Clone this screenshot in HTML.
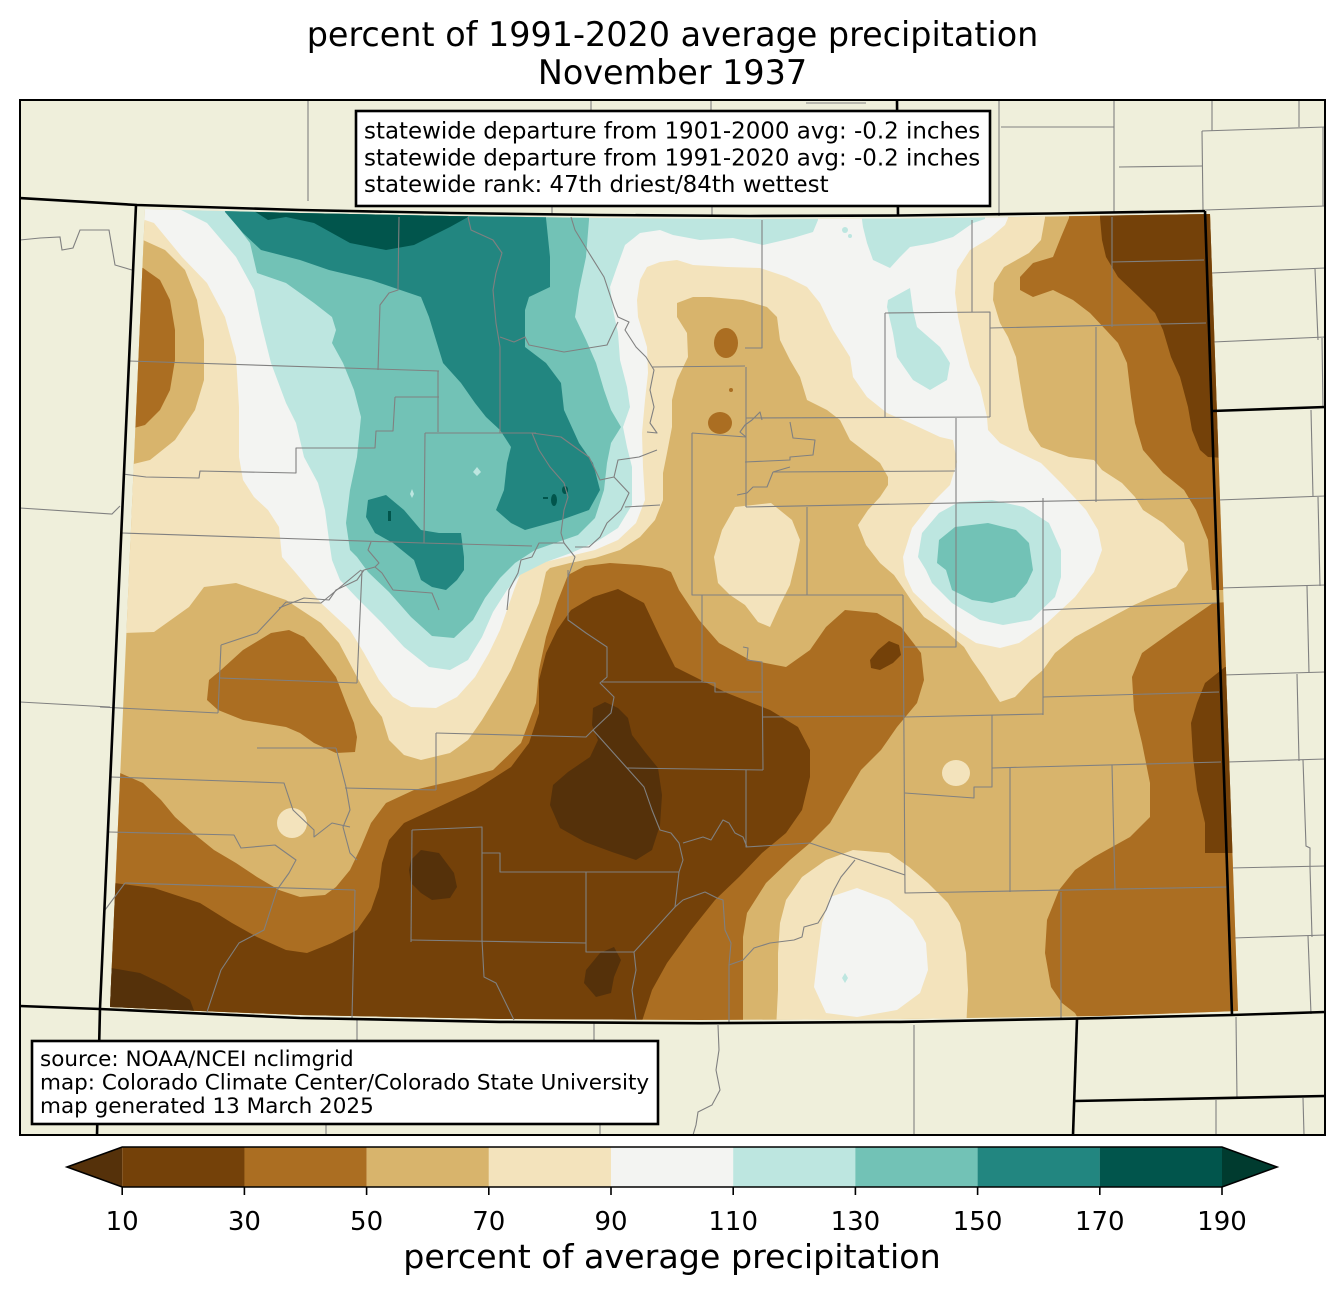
<!DOCTYPE html>
<html>
<head>
<meta charset="utf-8">
<style>
html,body{margin:0;padding:0;background:#ffffff;}
svg{display:block;}
text{font-family:"DejaVu Sans","Liberation Sans",sans-serif;fill:#000;}
</style>
</head>
<body>
<svg width="1344" height="1299" viewBox="0 0 1344 1299" xmlns="http://www.w3.org/2000/svg">
<defs>
<clipPath id="frame"><rect x="20" y="100" width="1305" height="1035"/></clipPath>
<clipPath id="co"><polygon points="145,209 300,213 450,216 600,218 750,219 900,218.5 1050,216.5 1210,214 1224,613 1238,1011 1100,1016 900,1019 700,1020 500,1019 300,1015 200,1011 110,1007"/></clipPath>
</defs>
<rect x="0" y="0" width="1344" height="1299" fill="#ffffff"/>

<g clip-path="url(#frame)">
<rect x="20" y="100" width="1305" height="1035" fill="#efefdb"/>

<!-- outside county lines -->
<g fill="none" stroke="#808080" stroke-width="1.1">
<polyline points="308,100 308,201"/>
<polyline points="591,100 591,111"/>
<polyline points="711,100 711,111"/>
<polyline points="552,206 552,215"/>
<polyline points="712,206 712,216"/>
<polyline points="806,103 866,103"/>
<polyline points="999,100 999,216"/>
<polyline points="1001,127 1114,127"/>
<polyline points="1114,100 1114,213"/>
<polyline points="1119,167 1202,166"/>
<polyline points="1212,100 1212,131"/>
<polyline points="1202,131 1325,127"/>
<polyline points="1299,100 1299,127"/>
<polyline points="1202,131 1203,210"/>
<polyline points="1205,210 1325,206"/>
<polyline points="1323,127 1323,206"/>
<polyline points="1212,273 1325,268"/>
<polyline points="1315,269 1318,340"/>
<polyline points="1213,342 1325,337"/>
<polyline points="1322,338 1323,408"/>
<polyline points="1218,500 1325,496"/>
<polyline points="1311,410 1313,497"/>
<polyline points="1318,497 1320,586"/>
<polyline points="1220,588 1325,585"/>
<polyline points="1307,586 1309,673"/>
<polyline points="1223,675 1325,672"/>
<polyline points="1297,674 1299,761"/>
<polyline points="1227,762 1325,759"/>
<polyline points="1303,760 1306,846 1310,848 1310,867"/>
<polyline points="1230,868 1325,866"/>
<polyline points="1310,867 1312,937"/>
<polyline points="1233,938 1325,935"/>
<polyline points="1308,936 1311,1014"/>
<polyline points="1236,1017 1237,1099"/>
<polyline points="1216,1100 1216,1135"/>
<polyline points="1303,1098 1304,1135"/>
<polyline points="357,1018 357,1040"/>
<polyline points="594,1023 594,1040"/>
<polyline points="326,1124 326,1135"/>
<polyline points="600,1124 600,1135"/>
<polyline points="718,1025 719,1050 716,1070 720,1090 712,1105 698,1112 696,1125 693,1135"/>
<polyline points="914,1025 914,1135"/>
<polyline points="20,240 40,238 60,237 62,250 73,248 80,230 109,230 115,265 132,270"/>
<polyline points="20,508 112,514 120,506"/>
<polyline points="20,702 110,707"/>
</g>

<!-- data -->
<g clip-path="url(#co)" stroke="none">
<rect x="90" y="190" width="1180" height="860" fill="#d8b46c"/>
<!-- >=70 -->
<polygon fill="#f3e3bc" points="100,195 1045,195 1045,218 1041,240 1029,253 1004,267 994,283 993,300 1000,323 1008,337 1016,357 1020,383 1024,407 1029,430 1041,447 1069,457 1094,460 1102,470 1122,483 1135,497 1143,510 1163,523 1184,543 1188,570 1176,587 1150,598 1134,605 1106,620 1075,637 1055,653 1043,670 1031,680 1015,697 1000,702 992,690 984,677 972,660 964,647 948,633 924,617 913,603 903,588 894,575 880,563 866,545 858,525 868,510 880,497 888,485 888,477 880,463 867,453 850,440 840,420 827,410 807,400 800,377 790,360 780,340 777,317 767,307 743,300 710,297 693,297 677,303 677,317 687,333 688,357 677,380 672,400 672,427 667,453 663,473 663,500 655,520 640,537 620,550 595,558 570,563 550,568 546,572 539,603 525,637 511,670 496,697 482,720 468,740 450,753 421,760 404,755 389,740 382,717 371,703 357,677 339,643 321,623 286,600 236,583 204,587 189,607 154,632 125,633 100,633"/>
<!-- >=90 -->
<polygon fill="#f3f4f2" points="130,195 1008,195 1008,218 1005,225 990,238 970,250 957,270 955,293 958,317 963,340 970,367 980,387 983,400 987,417 988,430 1000,443 1020,453 1041,463 1061,483 1086,510 1098,530 1102,550 1094,572 1075,597 1047,623 1019,643 1000,648 976,643 956,630 932,610 913,592 905,575 903,557 912,528 930,505 950,485 957,462 953,440 940,437 910,423 887,413 867,397 853,377 850,357 833,330 820,303 807,287 787,277 760,268 727,267 693,265 677,260 660,262 647,267 640,280 637,300 638,317 647,347 648,373 645,400 642,433 643,467 645,500 636,523 618,540 595,550 570,556 545,562 527,568 521,572 514,590 507,610 500,630 489,653 475,677 457,697 436,708 411,707 393,697 379,680 364,653 350,630 321,603 295,572 282,557 279,527 268,510 254,497 243,480 239,457 239,407 236,357 225,317 207,283 182,257 154,223 130,215"/>
<!-- >=110 -->
<g fill="#bde6e0">
<polygon points="150,195 818,195 818,220 813,232 793,238 763,245 733,238 700,240 673,235 660,230 640,233 625,245 617,267 610,287 613,310 618,333 620,360 627,387 630,407 623,427 627,447 632,467 632,505 618,528 596,542 571,553 546,562 520,575 507,590 493,612 482,637 468,660 450,670 429,667 404,647 382,623 357,598 340,580 332,560 329,540 325,510 318,483 304,457 296,423 286,403 271,363 261,323 254,290 236,257 207,223 179,209 160,200"/>
<polygon points="860,205 985,205 985,219 973,223 953,237 933,243 910,247 900,257 890,268 873,260 867,243 863,227"/>
<polygon points="888,300 910,288 913,310 917,327 940,347 950,363 947,380 930,390 913,380 897,357 893,333 887,307"/>
<polygon points="959,502 992,500 1024,507 1049,523 1061,550 1061,577 1055,597 1031,620 1003,625 980,620 952,603 932,583 926,570 918,557 922,533 939,513"/>
<circle cx="845" cy="230" r="3"/>
<circle cx="850" cy="236" r="2"/>
</g>
<!-- >=130 -->
<g fill="#72c2b6">
<polygon points="182,195 589,195 589,220 586,257 579,290 575,317 586,340 596,363 604,390 611,410 621,427 611,443 607,463 604,490 595,518 578,535 555,543 535,550 515,563 500,578 485,598 473,620 454,638 432,636 411,617 389,592 368,572 357,557 350,550 346,523 350,490 357,457 361,417 354,390 343,363 332,343 336,330 332,317 314,303 286,283 257,273 250,243 225,210 215,200"/>
<polygon points="939,540 955,527 988,523 1016,530 1029,543 1033,570 1027,583 1015,597 992,603 972,600 952,590 946,570 937,563"/>
</g>
<!-- >=150 -->
<g fill="#228680">
<polygon points="223,195 546,195 546,218 550,257 550,287 529,297 525,310 525,347 546,363 561,383 564,410 579,443 593,463 600,490 589,510 561,520 525,530 511,523 496,510 504,490 507,463 511,447 500,430 486,417 475,403 461,383 443,363 436,340 429,317 421,297 371,280 329,270 300,260 261,250 243,233 225,212"/>
<polygon points="368,500 386,495 404,510 421,530 439,533 461,533 464,557 464,570 457,580 446,590 432,587 421,580 414,560 393,543 375,533 366,517"/>
</g>
<g fill="#bde6e0">
<polygon points="477,467 481,472 477,476 473,472"/>
<polygon points="412,489 414,494 412,498 410,494"/>
</g>
<!-- >=170 -->
<g fill="#01554c">
<polygon points="250,195 470,195 468,217 450,227 414,245 386,250 350,243 314,223 286,217 268,220 254,211"/>
<rect x="388" y="511" width="3" height="10"/>
<ellipse cx="554" cy="500" rx="3" ry="6"/>
<ellipse cx="565" cy="490" rx="3" ry="4"/>
<rect x="543" y="497" width="5" height="2"/>
</g>
<!-- cream / white islands -->
<g fill="#f3e3bc">
<polygon points="735,507 771,503 792,520 800,540 796,560 790,585 780,605 770,627 758,622 745,605 730,595 718,583 714,557 722,530"/>
<polygon points="853,850 889,853 909,867 928,883 948,903 960,923 966,953 968,990 966,1030 776,1030 778,990 778,953 780,923 786,900 802,877 826,860"/>
<ellipse cx="292" cy="823" rx="15" ry="15"/>
<ellipse cx="956" cy="773" rx="14" ry="13"/>
</g>
<polygon fill="#f3f4f2" points="857,888 889,900 913,920 926,943 928,970 920,993 897,1010 857,1017 826,1013 814,987 818,953 822,923 830,897"/>
<polygon fill="#bde6e0" points="845,973 848,978 845,983 842,978"/>
<!-- dry: tan islands -->
<polygon fill="#d8b46c" points="100,236 143,240 165,250 185,270 197,300 204,340 204,380 195,410 175,440 150,460 100,472"/>
<!-- 30-50 -->
<g fill="#ab6e22">
<polygon points="100,265 143,268 160,280 170,300 175,330 175,360 170,390 160,410 145,425 100,437"/>
<polygon points="209,680 221,670 243,650 271,633 289,630 304,637 321,657 336,677 346,703 354,723 357,737 355,752 336,753 314,743 300,733 286,727 243,720 218,710 207,700"/>
<polygon points="100,773 120,773 143,783 161,800 175,817 193,833 214,850 236,863 257,877 279,890 300,897 325,895 336,887 350,870 361,847 371,823 386,803 414,790 457,780 493,770 521,743 536,703 539,670 546,637 557,603 568,575 585,566 610,563 640,565 662,568 671,572 679,590 699,620 719,643 750,660 786,667 810,650 826,627 845,610 877,613 901,627 921,653 924,680 917,703 897,727 881,750 861,770 845,797 830,823 810,843 790,860 766,883 747,913 743,937 743,1040 100,1040"/>
<polygon points="1069,195 1260,195 1260,590 1212,590 1208,540 1196,510 1184,490 1163,473 1143,450 1135,423 1131,397 1127,363 1118,343 1106,330 1090,313 1073,300 1053,290 1033,297 1020,290 1020,277 1033,263 1053,257 1061,237 1069,218"/>
<polygon points="1260,600 1213,603 1174,630 1142,653 1132,677 1134,710 1142,743 1150,783 1150,817 1130,837 1094,857 1075,870 1059,890 1047,920 1045,953 1051,987 1062,1003 1075,1013 1090,1040 1260,1040"/>
<ellipse cx="726" cy="343" rx="12" ry="15"/>
<ellipse cx="720" cy="423" rx="12" ry="11"/>
<circle cx="731" cy="390" r="2"/>
</g>
<!-- 10-30 -->
<g fill="#744109">
<polygon points="593,597 618,589 644,603 660,637 675,667 727,693 770,710 798,727 810,750 810,777 802,810 786,833 762,853 739,877 715,900 691,930 667,963 652,990 636,1040 100,1040 100,883 114,883 154,888 200,903 232,923 257,937 286,950 307,953 332,943 357,930 371,910 379,887 382,863 389,840 404,823 432,810 475,790 511,767 529,743 539,713 539,680 546,653 557,630 571,610"/>
<polygon points="1100,195 1260,195 1260,460 1208,457 1200,450 1192,430 1188,407 1180,377 1171,357 1163,330 1155,313 1139,297 1118,277 1106,257 1102,240 1100,218"/>
<polygon points="1260,667 1225,667 1205,683 1197,703 1191,723 1193,757 1197,790 1205,823 1205,853 1260,853"/>
<polygon points="878,650 889,641 899,645 901,655 893,663 880,670 871,668 870,660"/>
</g>
<!-- <10 -->
<g fill="#55310a">
<polygon points="593,708 605,702 618,708 628,718 632,735 645,752 658,768 662,795 660,825 652,850 636,860 612,852 585,842 560,828 550,805 553,785 568,772 590,757 598,740 592,725"/>
<polygon points="411,860 421,850 439,853 454,873 457,887 450,898 432,900 421,893 411,883 409,870"/>
<polygon points="100,968 111,968 140,973 165,985 190,1000 205,1040 100,1040"/>
<polygon points="586,970 600,953 614,947 621,960 614,977 611,993 596,997 584,983"/>
</g>
</g>

<!-- Colorado county lines -->
<g fill="none" stroke="#808080" stroke-width="1.1" stroke-linejoin="round">
<polyline points="399,217 398,290 389,293 380,305 378,370"/>
<polyline points="129,361 377,369 439,371"/>
<polyline points="438,371 438,432"/>
<polyline points="395,397 439,397"/>
<polyline points="395,397 393,431 376,431 375,448 296,448 296,473 200,471 199,478 146,477 123,474"/>
<polyline points="425,433 536,433"/>
<polyline points="425,433 424,543"/>
<polyline points="122,533 423,543 532,546"/>
<polyline points="468,217 471,230 493,240 502,253 496,273 493,290 496,323 500,347 500,433"/>
<polyline points="500,337 514,342 525,337 529,345 564,352 607,345 614,330 618,322"/>
<polyline points="571,217 575,230 589,253 604,277 614,307 618,317 629,322 625,330 636,347 646,357 654,370 650,390 654,407 650,423 657,433 647,432"/>
<polyline points="532,433 561,437 579,450 589,457 600,480 614,477 618,460 639,457 657,450"/>
<polyline points="532,433 539,450 550,467 564,483 568,497 564,510 561,533 564,543 539,543 532,557 521,560 518,573 509,590 507,610"/>
<polyline points="564,543 575,557 568,577 568,610"/>
<polyline points="614,477 629,493 621,510 607,523 600,537 589,547 575,547"/>
<polyline points="625,507 660,505"/>
<polyline points="371,542 368,550 379,563 375,567 364,570 357,580 336,590 329,600 304,598 279,608"/>
<polyline points="375,567 382,573 393,590 432,593 439,610"/>
<polyline points="100,707 218,713"/>
<polyline points="218,713 221,645"/>
<polyline points="221,645 257,633 286,602 321,603 361,570"/>
<polyline points="220,678 357,683"/>
<polyline points="357,683 362,570"/>
<polyline points="257,748 336,748"/>
<polyline points="336,748 346,787 350,810 343,827 350,853 357,860"/>
<polyline points="111,777 284,783 293,810 314,830 314,837 332,823 350,827"/>
<polyline points="109,832 234,835 241,848 275,845 296,860 289,873 279,887 277,890"/>
<polyline points="125,883 355,890"/>
<polyline points="125,883 105,910"/>
<polyline points="277,890 264,930 239,943 221,970 207,1012"/>
<polyline points="355,890 352,1018"/>
<polyline points="345,788 436,790"/>
<polyline points="436,733 436,790"/>
<polyline points="436,733 586,737 593,730"/>
<polyline points="568,570 568,620 586,633 607,647 607,677 600,683 614,697 611,713 593,730 627,768 644,787 652,810 660,830 671,833 679,843 683,860 679,872 675,907"/>
<polyline points="602,682 702,682"/>
<polyline points="627,768 763,770"/>
<polyline points="412,830 482,827 482,942"/>
<polyline points="412,830 411,942"/>
<polyline points="482,853 500,853 500,872 679,872"/>
<polyline points="411,940 586,943"/>
<polyline points="586,872 586,952 634,952"/>
<polyline points="482,940 484,977 496,983 514,1020"/>
<polyline points="634,952 675,907 683,900 705,892 717,898 723,900 725,930 731,943 729,965 729,1023"/>
<polyline points="634,952 636,970 632,990 636,1020"/>
<polyline points="702,595 702,682"/>
<polyline points="692,433 692,595 903,595"/>
<polyline points="702,682 715,683 715,692 763,692"/>
<polyline points="743,647 748,648 747,660 762,662 763,770"/>
<polyline points="763,717 905,716"/>
<polyline points="746,770 746,847 810,843 905,875"/>
<polyline points="683,843 703,837 711,840 723,820 729,823 735,833 743,837 747,847"/>
<polyline points="855,860 841,877 834,890 826,910 818,923 804,927 802,937 794,940 770,943 754,948 743,960 729,965"/>
<polyline points="903,595 905,893 1227,887"/>
<polyline points="956,418 956,647 903,647"/>
<polyline points="1043,498 1043,715"/>
<polyline points="1043,610 1217,603"/>
<polyline points="1043,697 1219,692"/>
<polyline points="905,717 1043,714"/>
<polyline points="992,715 992,787 974,787 974,798 905,793"/>
<polyline points="992,768 1221,762"/>
<polyline points="1010,768 1010,892"/>
<polyline points="1112,765 1115,890"/>
<polyline points="1061,892 1061,1020"/>
<polyline points="746,507 1214,498"/>
<polyline points="807,507 807,595"/>
<polyline points="746,367 746,507"/>
<polyline points="762,220 762,348 745,348"/>
<polyline points="652,367 745,366"/>
<polyline points="746,418 990,417"/>
<polyline points="885,313 885,418"/>
<polyline points="885,313 990,312 990,417"/>
<polyline points="972,220 972,312"/>
<polyline points="990,328 1206,323"/>
<polyline points="1112,217 1112,327"/>
<polyline points="1112,262 1204,260"/>
<polyline points="1096,327 1096,502"/>
<polyline points="692,433 746,437"/>
<polyline points="745,462 790,460 790,457 813,455 815,440 793,438 790,422"/>
<polyline points="790,467 773,472"/>
<polyline points="773,472 955,471"/>
<polyline points="773,472 767,487 753,487 747,493 737,495"/>
<polyline points="746,437 740,432 745,425 752,420 760,412 762,420"/>
</g>

<!-- state borders -->
<g fill="none" stroke="#000" stroke-width="2.6" stroke-linejoin="round">
<polyline points="19,198 137,205 300,210 450,213 600,215 750,216 900,215.5 1050,213.5 1205,211"/>
<polyline points="897,100 898,216"/>
<polyline points="136,205 100,1008 97,1135"/>
<polyline points="1205,211 1232,1015"/>
<polyline points="20,1006 100,1009 300,1018 500,1021.9 700,1023.2 900,1021.9 1077,1018.6 1232,1015 1325,1012"/>
<polyline points="1077,1019 1073,1135"/>
<polyline points="1075,1101 1325,1096"/>
<polyline points="1212,411 1325,407"/>
</g>
</g>

<!-- frame -->
<rect x="20" y="100" width="1305" height="1035" fill="none" stroke="#000" stroke-width="2"/>

<!-- stats box -->
<rect x="356" y="111" width="634" height="95" fill="#ffffff" stroke="#000" stroke-width="2.6"/>
<text x="364" y="138.5" font-size="22.95">statewide departure from 1901-2000 avg: -0.2 inches</text>
<text x="364" y="165.5" font-size="22.95">statewide departure from 1991-2020 avg: -0.2 inches</text>
<text x="364" y="192" font-size="22.95">statewide rank: 47th driest/84th wettest</text>

<!-- source box -->
<rect x="32" y="1041" width="626" height="83" fill="#ffffff" stroke="#000" stroke-width="2.6"/>
<text x="40" y="1066" font-size="21.5">source: NOAA/NCEI nclimgrid</text>
<text x="40" y="1089.5" font-size="21.5">map: Colorado Climate Center/Colorado State University</text>
<text x="40" y="1113" font-size="21.5">map generated 13 March 2025</text>

<!-- title -->
<text x="672.5" y="46" font-size="33.4" text-anchor="middle">percent of 1991-2020 average precipitation</text>
<text x="672.5" y="84" font-size="33.4" text-anchor="middle">November 1937</text>

<!-- colorbar -->
<g>
<polygon points="122.2,1147 67,1167 122.2,1187" fill="#55310a"/>
<rect x="122.2" y="1147" width="122.3" height="40" fill="#744109"/>
<rect x="244.4" y="1147" width="122.3" height="40" fill="#ab6e22"/>
<rect x="366.6" y="1147" width="122.3" height="40" fill="#d8b46c"/>
<rect x="488.8" y="1147" width="122.3" height="40" fill="#f3e3bc"/>
<rect x="611" y="1147" width="122.3" height="40" fill="#f3f4f2"/>
<rect x="733.2" y="1147" width="122.3" height="40" fill="#bde6e0"/>
<rect x="855.4" y="1147" width="122.3" height="40" fill="#72c2b6"/>
<rect x="977.6" y="1147" width="122.3" height="40" fill="#228680"/>
<rect x="1099.8" y="1147" width="122.2" height="40" fill="#01554c"/>
<polygon points="1222,1147 1277,1167 1222,1187" fill="#003b2f"/>
<polygon points="122.2,1147 1222,1147 1277,1167 1222,1187 122.2,1187 67,1167" fill="none" stroke="#000" stroke-width="1.6"/>
<g stroke="#000" stroke-width="1.6">
<line x1="122.2" y1="1187" x2="122.2" y2="1195"/>
<line x1="244.4" y1="1187" x2="244.4" y2="1195"/>
<line x1="366.6" y1="1187" x2="366.6" y2="1195"/>
<line x1="488.8" y1="1187" x2="488.8" y2="1195"/>
<line x1="611" y1="1187" x2="611" y2="1195"/>
<line x1="733.2" y1="1187" x2="733.2" y2="1195"/>
<line x1="855.4" y1="1187" x2="855.4" y2="1195"/>
<line x1="977.6" y1="1187" x2="977.6" y2="1195"/>
<line x1="1099.8" y1="1187" x2="1099.8" y2="1195"/>
<line x1="1222" y1="1187" x2="1222" y2="1195"/>
</g>
<g font-size="26" text-anchor="middle">
<text x="122.2" y="1230">10</text>
<text x="244.4" y="1230">30</text>
<text x="366.6" y="1230">50</text>
<text x="488.8" y="1230">70</text>
<text x="611" y="1230">90</text>
<text x="733.2" y="1230">110</text>
<text x="855.4" y="1230">130</text>
<text x="977.6" y="1230">150</text>
<text x="1099.8" y="1230">170</text>
<text x="1222" y="1230">190</text>
</g>
<text x="672" y="1268" font-size="33.3" text-anchor="middle">percent of average precipitation</text>
</g>
</svg>
</body>
</html>
